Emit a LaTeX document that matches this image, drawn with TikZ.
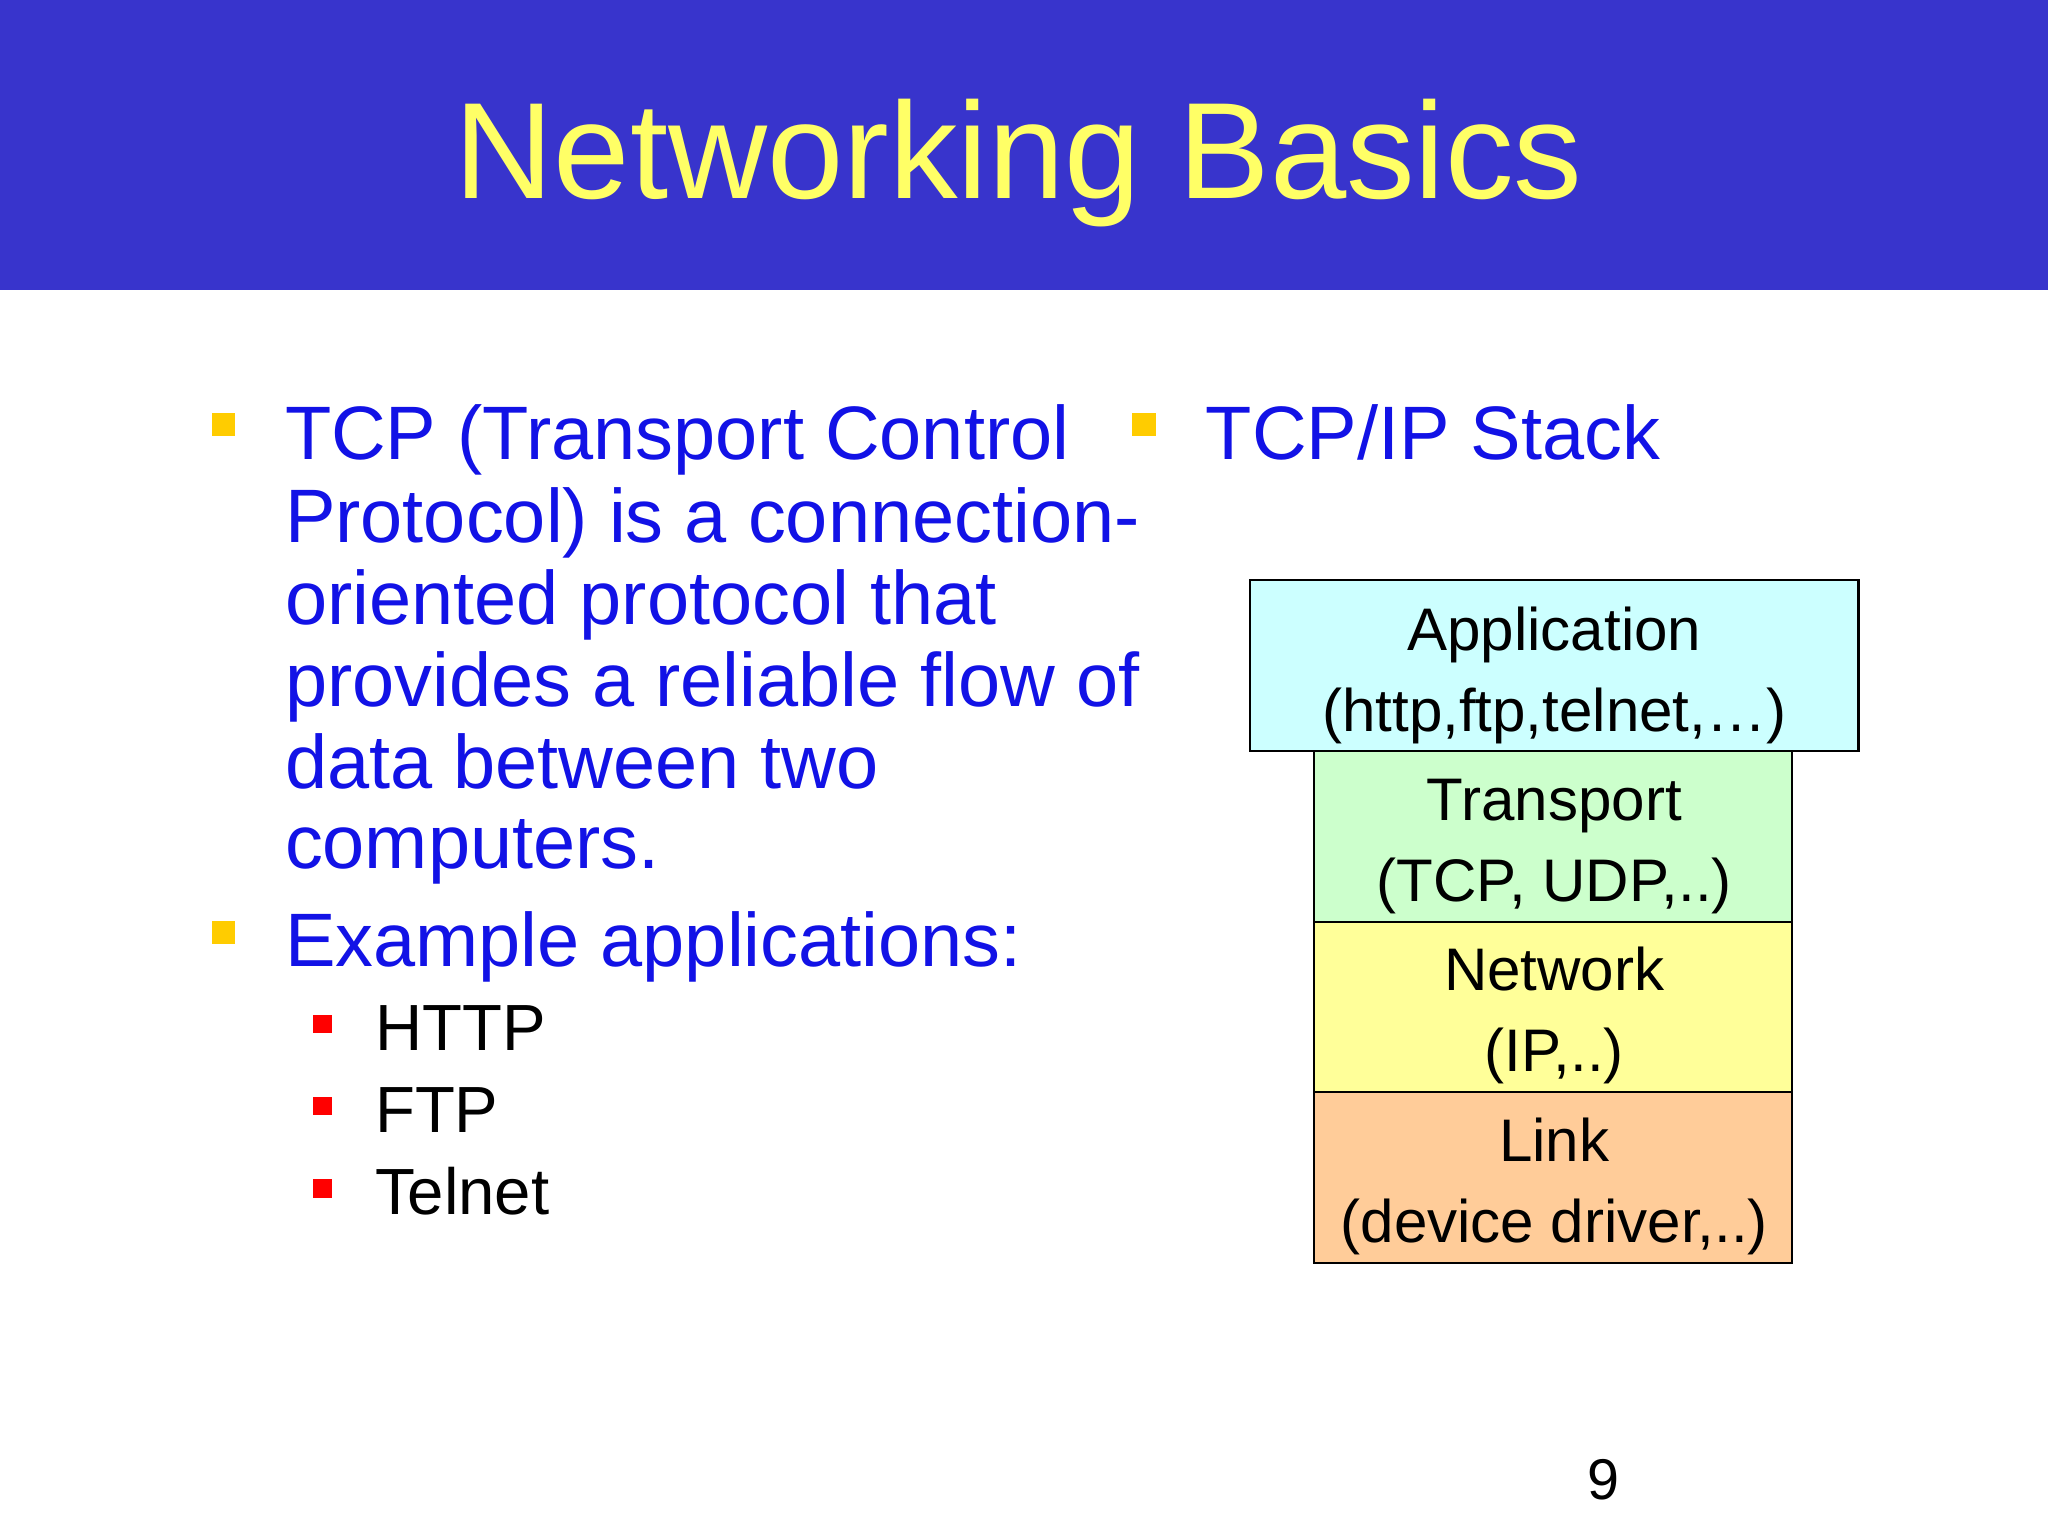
\documentclass[tikz,border=0pt]{standalone}
\usepackage{fontspec}
\setmainfont{Liberation Sans}
\definecolor{banner}{HTML}{3834CC}
\definecolor{ttl}{HTML}{FFFF66}
\definecolor{txt}{HTML}{1212E6}
\definecolor{gold}{HTML}{FFCC00}
\definecolor{cya}{HTML}{CCFFFF}
\definecolor{grn}{HTML}{CCFFCC}
\definecolor{yel}{HTML}{FFFF99}
\definecolor{org}{HTML}{FFCC99}
\tikzset{
 body/.style={anchor=base west,inner sep=0pt,text=txt,font=\fontsize{58}{63}\selectfont},
 sub/.style={anchor=base west,inner sep=0pt,text=black,font=\fontsize{50}{63}\selectfont},
 btxt/.style={anchor=base,inner sep=0pt,text=black,font=\fontsize{46}{63}\selectfont},
 layer/.style={draw=black,line width=1.8pt},
}
\begin{document}
\begin{tikzpicture}[x=1pt,y=-1pt]
\useasboundingbox (0,0) rectangle (1568,1176);
\fill[white] (0,0) rectangle (1568,1176);
\fill[banner] (0,0) rectangle (1568,222);
\node[anchor=base,inner sep=0pt,text=ttl,font=\fontsize{105}{110}\selectfont] (title) at (780,152) {Networking Basics};
% left bullets
\fill[gold] (162,316) rectangle (180,334);
\node[body] (l1) at (218,352) {TCP (Transport Control};
\node[body] (l2) at (218,415) {Protocol) is a connection-};
\node[body] (l3) at (218,478) {oriented protocol that};
\node[body] (l4) at (218,541) {provides a reliable flow of};
\node[body] (l5) at (218,604) {data between two};
\node[body] (l6) at (218,665) {computers.};
\fill[gold] (162,705) rectangle (180,723);
\node[body] (ex) at (218,740) {Example applications:};
\fill[red] (240,777) rectangle (254,791);
\node[sub] (s1) at (287,804) {HTTP};
\fill[red] (240,840) rectangle (254,854);
\node[sub] (s2) at (287,867) {FTP};
\fill[red] (240,903) rectangle (254,917);
\node[sub] (s3) at (287,930) {Telnet};
% right
\fill[gold] (867,316) rectangle (885,334);
\node[body] (stk) at (923,352) {TCP/IP Stack};
\draw[layer,fill=cya] (957,444) rectangle (1423,575);
\draw[layer,fill=grn] (1006,575) rectangle (1372,706);
\draw[layer,fill=yel] (1006,706) rectangle (1372,836);
\draw[layer,fill=org] (1006,836) rectangle (1372,967);
\node[btxt] (a1) at (1190,498) {Application};
\node[btxt] (a2) at (1190,560) {(http,ftp,telnet,…)};
\node[btxt] (t1) at (1190,628) {Transport};
\node[btxt] (t2) at (1190,690) {(TCP, UDP,..)};
\node[btxt] (n1) at (1190,758) {Network};
\node[btxt] (n2) at (1190,820) {(IP,..)};
\node[btxt] (k1) at (1190,889) {Link};
\node[btxt] (k2) at (1190,951) {(device driver,..)};
\node[anchor=base,inner sep=0pt,font=\fontsize{44}{50}\selectfont] (pg) at (1228,1148) {9};
\end{tikzpicture}
\end{document}
